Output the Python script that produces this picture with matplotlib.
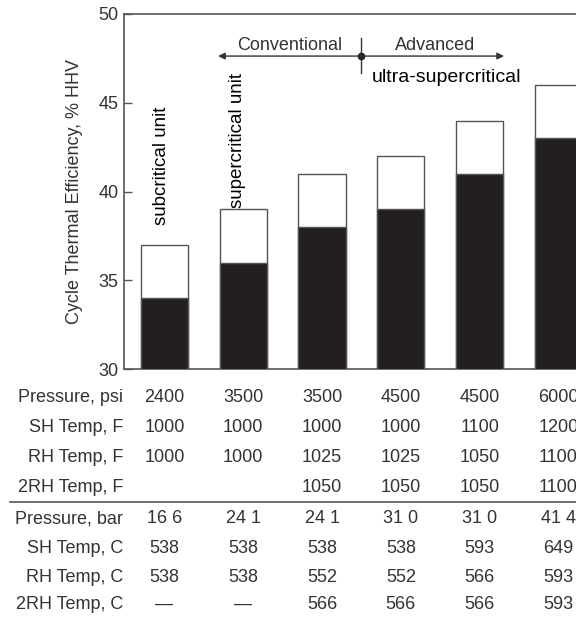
import matplotlib
matplotlib.use("Agg")
import matplotlib.pyplot as plt
import numpy as np

plt.rcParams['font.family'] = ['Liberation Sans', 'DejaVu Sans']

# Data
base_eff = [34, 36, 38, 39, 41, 43]
total_eff = [37, 39, 41, 42, 44, 46]
row_labels = ["Pressure, psi", "SH Temp, F", "RH Temp, F", "2RH Temp, F",
              "Pressure, bar", "SH Temp, C", "RH Temp, C", "2RH Temp, C"]
pressure_psi = ["2400", "3500", "3500", "4500", "4500", "6000"]
sh_temp_f = ["1000", "1000", "1000", "1000", "1100", "1200"]
rh_temp_f = ["1000", "1000", "1025", "1025", "1050", "1100"]
rh2_temp_f = ["", "", "1050", "1050", "1050", "1100"]
pressure_bar = ["16 6", "24 1", "24 1", "31 0", "31 0", "41 4"]
sh_temp_c = ["538", "538", "538", "538", "593", "649"]
rh_temp_c = ["538", "538", "552", "552", "566", "593"]
rh2_temp_c = ["\u2014", "\u2014", "566", "566", "566", "593"]
table_rows = [pressure_psi, sh_temp_f, rh_temp_f, rh2_temp_f,
              pressure_bar, sh_temp_c, rh_temp_c, rh2_temp_c]

TXT = '#333333'
EDGE = '#555555'
BLACK = '#231f20'
W, H = 576, 617

fig = plt.figure(figsize=(W/100, H/100), dpi=100)
ax_left, ax_right, ax_top, ax_bot = 124, 582, 14, 369
ax = fig.add_axes([ax_left/W, 1 - ax_bot/H, (ax_right-ax_left)/W, (ax_bot-ax_top)/H])

x = np.arange(len(base_eff))
width = 0.6
ax.bar(x, total_eff, width, bottom=0, color='white', edgecolor=EDGE, linewidth=1.0, zorder=2)
ax.bar(x, base_eff, width, color=BLACK, edgecolor=EDGE, linewidth=1.0, zorder=3)

ax.set_xlim(-0.514, 5.3)
ax.set_ylim(30, 50)
ax.set_yticks([30, 35, 40, 45, 50])
ax.tick_params(axis='y', direction='in', length=6, width=1, colors=EDGE,
               labelcolor=TXT, labelsize=13, pad=4)
ax.set_xticks([])
ax.spines['right'].set_visible(False)
for s in ['left', 'top', 'bottom']:
    ax.spines[s].set_color(EDGE)
    ax.spines[s].set_linewidth(1.2)

ax.set_ylabel("Cycle Thermal Efficiency, % HHV", fontsize=13, color=TXT, labelpad=11)

# Annotations
fs = 13
ax.text(-0.04, 38.1, "subcritical unit", rotation=90, ha='center', va='bottom', fontsize=13.5, color='black')
ax.text(0.93, 39.05, "supercritical unit", rotation=90, ha='center', va='bottom', fontsize=13.5, color='black')
ax.annotate("", xy=(0.68, 47.63), xytext=(2.49, 47.63),
            arrowprops=dict(arrowstyle='-|>', color='#333333', lw=1, mutation_scale=10, shrinkA=0, shrinkB=0))
ax.annotate("", xy=(4.31, 47.63), xytext=(2.49, 47.63),
            arrowprops=dict(arrowstyle='-|>', color='#333333', lw=1, mutation_scale=10, shrinkA=0, shrinkB=0))
ax.plot([2.49, 2.49], [46.68, 48.65], color='#333333', lw=1)
ax.plot([2.49], [47.63], 'o', color='#222222', markersize=4.5)
ax.text(1.59, 48.2, "Conventional", ha='center', va='center', fontsize=fs, color=TXT)
ax.text(3.43, 48.2, "Advanced", ha='center', va='center', fontsize=fs, color=TXT)
ax.text(2.63, 46.45, "ultra-supercritical", ha='left', va='center', fontsize=14, color='black')

# Table
row_base_px = [402, 432, 462, 492, 523, 553, 582, 609]
for lbl, vals, ypx in zip(row_labels, table_rows, row_base_px):
    yf = 1 - ypx/H
    fig.text(123/W, yf, lbl, ha='right', va='baseline', fontsize=fs, color=TXT)
    for xi, v in zip(x, vals):
        xd = ax.transData.transform((xi, 40))[0] / fig.dpi / fig.get_figwidth()
        fig.text(xd, yf, v, ha='center', va='baseline', fontsize=fs, color=TXT)

fig.add_artist(plt.Line2D([10/W, 1.0], [1 - 502/H, 1 - 502/H], color=EDGE, lw=1.2))

fig.savefig("out.png", dpi=100)
